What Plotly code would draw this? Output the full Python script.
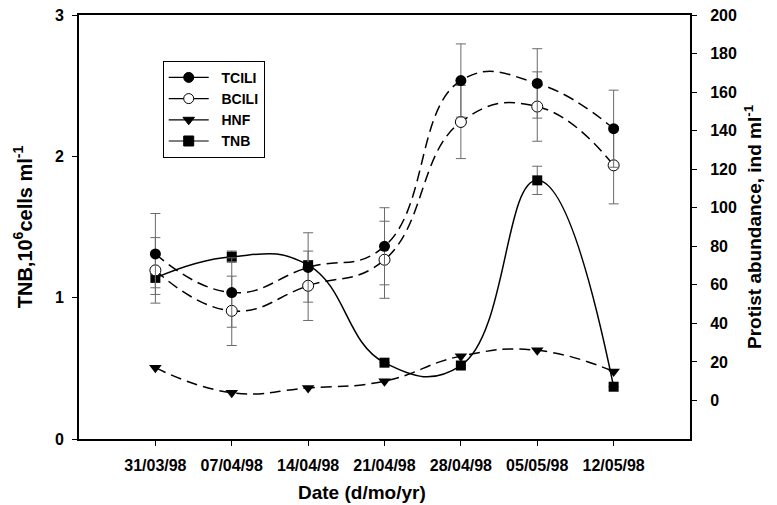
import plotly.graph_objects as go

dates = ["31/03/98", "07/04/98", "14/04/98", "21/04/98", "28/04/98", "05/05/98", "12/05/98"]
tcili = [76, 56, 69, 80, 166, 164.5, 141]
tcili_err = [21, 18, 18, 20, 19, 18, 20]
bcili = [67.5, 46.5, 59.5, 73, 144.5, 152.5, 122]
bcili_err = [17, 18, 18, 20, 19, 18, 20]
hnf = [17, 4, 6.5, 10, 23, 26, 15]
tnb = [1.14, 1.29, 1.23, 0.54, 0.52, 1.83, 0.37]
tnb_err = [0.07, 0.04, 0.0, 0.0, 0.0, 0.1, 0.0]

left_ticks = [0, 1, 2, 3]
right_ticks = [0, 20, 40, 60, 80, 100, 120, 140, 160, 180, 200]

x = list(range(len(dates)))
FONT = "Liberation Sans, Arial, sans-serif"
DASH = "11px,6px"
NB = "\u00a0\u00a0"

fig = go.Figure()

err_style = dict(type="data", color="#6a6a6a", thickness=1, width=5)

fig.add_trace(go.Scatter(
    x=x, y=hnf, yaxis="y2", mode="lines+markers", showlegend=False,
    line=dict(color="black", width=1.5, dash=DASH, shape="spline", smoothing=1.3),
    marker=dict(symbol="triangle-down", size=11, color="black")))
fig.add_trace(go.Scatter(
    x=x, y=tnb, yaxis="y", mode="lines+markers", showlegend=False,
    error_y=dict(array=tnb_err, **err_style),
    line=dict(color="black", width=1.5, shape="spline", smoothing=1.3),
    marker=dict(symbol="square", size=10, color="black")))
fig.add_trace(go.Scatter(
    x=x, y=bcili, yaxis="y2", mode="lines+markers", showlegend=False,
    error_y=dict(array=bcili_err, **err_style),
    line=dict(color="black", width=1.5, dash=DASH, shape="spline", smoothing=1.3),
    marker=dict(symbol="circle", size=11, color="white", line=dict(color="black", width=1))))
fig.add_trace(go.Scatter(
    x=x, y=tcili, yaxis="y2", mode="lines+markers", showlegend=False,
    error_y=dict(array=tcili_err, **err_style),
    line=dict(color="black", width=1.5, dash=DASH, shape="spline", smoothing=1.3),
    marker=dict(symbol="circle", size=11, color="black")))

# legend entries
for name, sym, col in [("TCILI", "circle", "black"), ("BCILI", "circle", "white"),
                       ("HNF", "triangle-down", "black"), ("TNB", "square", "black")]:
    fig.add_trace(go.Scatter(
        x=[None], y=[None], mode="lines+markers", name=NB + name,
        line=dict(color="black", width=1.2),
        marker=dict(symbol=sym, size=10, color=col, line=dict(color="black", width=1))))

axis_font = dict(family=FONT, size=16, color="black", weight="bold")
title_font = dict(family=FONT, size=19, color="black", weight="bold")

fig.update_layout(
    width=777, height=505,
    margin=dict(l=79, r=87, t=15, b=66),
    paper_bgcolor="white", plot_bgcolor="white",
    font=dict(family=FONT, color="black"),
    xaxis=dict(
        range=[-1, 7], tickvals=x, ticktext=dates, showgrid=False, zeroline=False,
        showline=True, linecolor="black", linewidth=2, mirror=True, automargin=False,
        ticks="outside", ticklen=5, tickcolor="black", ticklabelstandoff=6,
        tickfont=axis_font),
    yaxis=dict(
        range=[0, 3], tickvals=left_ticks, showgrid=False, zeroline=False,
        showline=True, linecolor="black", linewidth=2, automargin=False,
        ticks="outside", ticklen=5, tickcolor="black", ticklabelstandoff=5,
        tickfont=axis_font,
        title=dict(text="TNB,10<sup>6</sup>cells ml<sup>-1</sup>",
                   font=dict(family=FONT, size=20, color="black", weight="bold"), standoff=17)),
    yaxis2=dict(
        range=[-20, 200], tickvals=right_ticks, overlaying="y", side="right",
        showgrid=False, zeroline=False, showline=True, linecolor="black", linewidth=2,
        automargin=False,
        ticks="outside", ticklen=5, tickcolor="black", ticklabelstandoff=10,
        tickfont=axis_font,
        title=dict(text="Protist abundance, ind ml<sup>-1</sup>", font=title_font, standoff=12)),
    legend=dict(
        x=0.137, y=0.892, xanchor="left", yanchor="top",
        bgcolor="white", bordercolor="black", borderwidth=1,
        font=dict(family=FONT, size=14, color="black", weight="bold"),
        tracegroupgap=0, itemwidth=40),
    annotations=[dict(
        text="Date (d/mo/yr)", xref="paper", yref="paper", x=0.463, y=-0.125,
        xanchor="center", yanchor="middle", showarrow=False, font=title_font)],
)

fig.write_html("out.html", config={"displayModeBar": False},
               post_script="document.body.style.margin='0';")
